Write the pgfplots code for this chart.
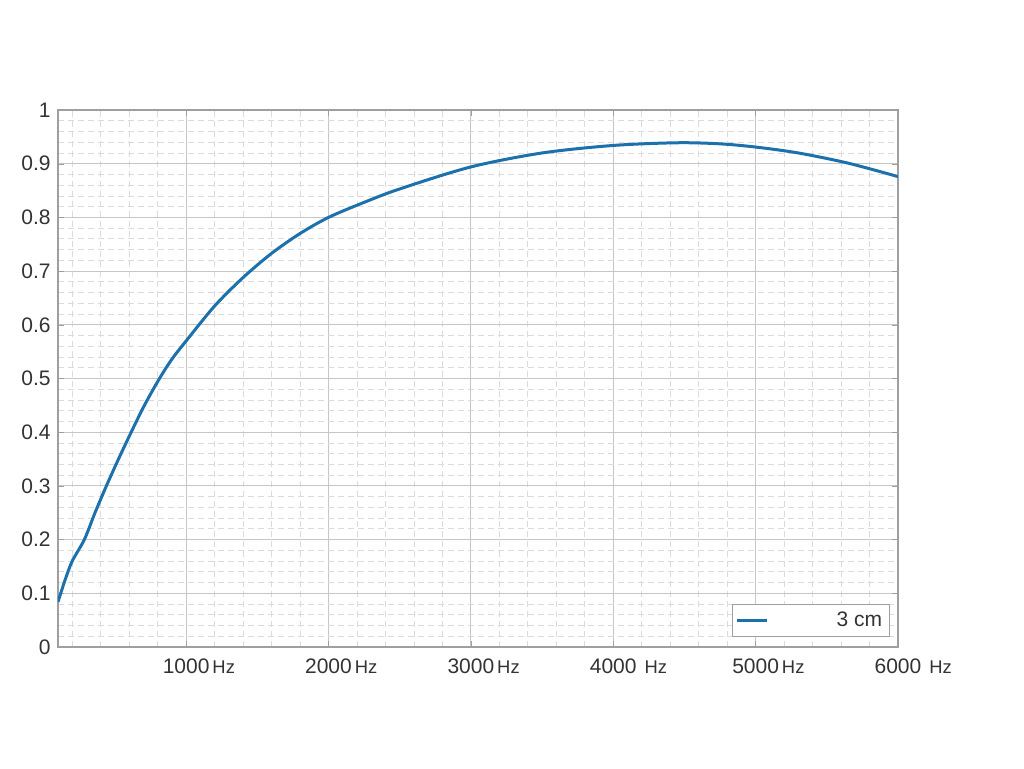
\documentclass[border=0pt]{standalone}
\usepackage{pgfplots}
\pgfplotsset{compat=1.18}
\usepackage{fontspec}
\setmainfont{Liberation Sans}
\definecolor{mblue}{RGB}{28,112,172}
\newcommand{\hz}{\fontsize{9.2}{10}\selectfont Hz}
\begin{document}
\fontsize{10.5}{12}\selectfont
\begin{tikzpicture}
\path[use as bounding box] (-29pt,-60.5pt) rectangle (483pt,323.5pt);
\begin{axis}[
  at={(0pt,0pt)}, anchor=south west,
  scale only axis, width=420pt, height=268.5pt,
  xmin=100, xmax=6000, ymin=0, ymax=1,
  xtick={1000,2000,3000,4000,5000,6000},
  xticklabels={1000\rlap{\hspace{1.5pt}\hz},2000\rlap{\hspace{1.5pt}\hz},3000\rlap{\hspace{1.5pt}\hz},4000\rlap{\hspace{4pt}\hz},5000\rlap{\hspace{1.5pt}\hz},6000\rlap{\hspace{4pt}\hz}},
  minor xtick={200,400,600,800,1200,1400,1600,1800,2200,2400,2600,2800,3200,3400,3600,3800,4200,4400,4600,4800,5200,5400,5600,5800},
  ytick={0,0.1,...,1},
  yticklabels={0,0.1,0.2,0.3,0.4,0.5,0.6,0.7,0.8,0.9,1},
  minor y tick num=4,
  grid=both,
  major grid style={gray!45, line width=0.5pt},
  minor grid style={gray!28, densely dashed, line width=0.4pt},
  axis line style={gray!75, line width=0.6pt},
  tick align=inside,
  major tick length=3pt, minor tick length=0pt,
  tick style={gray!75},
  xticklabel style={font=\fontsize{10.5}{12}\selectfont, text=black!80, yshift=-2pt},
  yticklabel style={font=\fontsize{10.5}{12}\selectfont, text=black!80},
  legend style={at={(rel axis cs:0.99,0.019)}, anchor=south east, draw=gray!75, line width=0.5pt, inner sep=1.5pt, font=\fontsize{10.5}{12}\selectfont, text=black!80},
  legend image code/.code={\draw[#1, line width=1.5pt] (0pt,0pt) -- (15pt,0pt);},
]
\addplot[mblue, line width=1.5pt, smooth, tension=0.5] coordinates {
(100,0.084) (150,0.125) (200,0.160) (285,0.200) (360,0.250) (440,0.300)
(525,0.350) (614,0.400) (705,0.449) (806,0.497) (900,0.536) (1000,0.570)
(1200,0.635) (1400,0.688) (1600,0.733) (1800,0.770) (2000,0.800) (2250,0.828)
(2500,0.853) (3000,0.894) (3500,0.920) (4000,0.934) (4450,0.939) (4750,0.937)
(5000,0.931) (5300,0.920) (5650,0.901) (6000,0.876)
};
\addlegendentry{\makebox[55pt][r]{3 cm}}
\end{axis}
\end{tikzpicture}
\end{document}
